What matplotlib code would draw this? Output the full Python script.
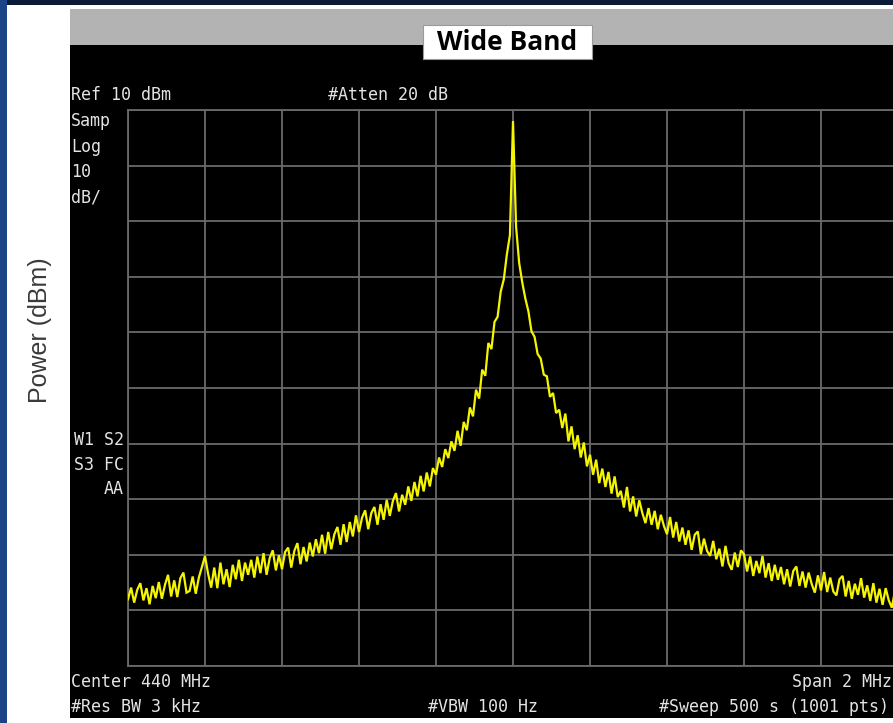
import numpy as np
import matplotlib
matplotlib.use("Agg")
import matplotlib.pyplot as plt
from matplotlib.patches import Rectangle

# ---------------- data ----------------
title = "Wide Band"
y_label = "Power (dBm)"
center_mhz = 440.0
span_mhz = 2.0
ref_level_dbm = 10.0
db_per_div = 10.0
n_div = 10
f_step_khz = 8.0  # trace points, kHz apart, from -1000 to +1000 kHz offset

trace_dbm = [
    -78.0, -75.9, -78.6, -76.3, -75.1, -78.2, -76.0, -78.9, -75.6, -77.8,
    -74.9, -77.9, -75.4, -73.6, -77.5, -74.6, -77.6, -74.2, -73.2, -76.8,
    -76.5, -73.9, -77.0, -74.1, -72.2, -70.2, -73.4, -75.9, -72.3, -76.0,
    -71.4, -75.3, -72.6, -75.8, -71.8, -74.4, -70.9, -74.7, -71.4, -73.6,
    -70.9, -74.1, -70.3, -73.3, -69.7, -73.6, -70.6, -69.2, -72.8, -70.1,
    -72.6, -69.5, -68.7, -72.3, -69.3, -67.9, -71.7, -68.6, -71.2, -67.8,
    -70.3, -67.2, -69.7, -66.4, -69.8, -65.9, -69.0, -66.3, -65.0, -68.2,
    -64.5, -67.7, -64.1, -66.7, -62.9, -65.9, -63.3, -62.0, -65.4, -62.5,
    -61.4, -64.6, -60.9, -63.7, -60.1, -63.0, -60.3, -58.9, -62.2, -59.2,
    -61.0, -57.7, -60.3, -56.9, -59.5, -55.8, -58.6, -55.2, -57.7, -54.4,
    -55.6, -52.5, -54.2, -51.0, -52.6, -49.6, -51.3, -47.7, -50.4, -46.1,
    -47.6, -43.5, -45.1, -40.3, -41.9, -36.7, -37.8, -31.9, -33.0, -28.1,
    -27.2, -22.7, -20.5, -16.0, -12.5, 8.0, -11.0, -17.5, -21.0, -23.9,
    -26.2, -29.8, -30.8, -33.9, -34.7, -37.6, -37.9, -41.6, -40.9, -44.5,
    -43.9, -47.2, -44.6, -49.6, -46.9, -51.0, -48.5, -52.5, -49.8, -54.1,
    -52.0, -55.6, -52.9, -57.1, -54.5, -57.8, -55.1, -59.0, -55.9, -59.6,
    -58.5, -61.5, -57.8, -62.2, -59.5, -63.1, -60.2, -62.5, -64.3, -61.6,
    -64.6, -62.1, -65.4, -62.8, -64.8, -66.3, -63.2, -66.9, -64.1, -67.6,
    -65.1, -68.2, -65.6, -69.1, -66.4, -65.8, -69.9, -67.1, -69.3, -70.2,
    -67.5, -70.8, -68.9, -72.1, -68.4, -71.5, -72.7, -69.6, -72.2, -69.2,
    -69.9, -73.0, -70.3, -73.8, -71.1, -73.3, -70.2, -74.1, -71.5, -74.7,
    -71.8, -74.5, -72.2, -75.3, -72.6, -75.7, -72.9, -72.1, -75.6, -73.0,
    -75.9, -73.2, -75.3, -76.8, -73.7, -76.4, -73.1, -76.7, -74.1, -76.6,
    -77.3, -74.4, -73.8, -77.5, -74.7, -77.9, -75.2, -77.2, -74.2, -77.7,
    -75.5, -78.3, -75.1, -78.6, -76.1, -79.0, -76.0, -78.2, -79.5, -76.5,
    -78.4,
]

header_left = "Ref 10 dBm"
header_mid = "#Atten 20 dB"
side_top = ["Samp", "Log", "10", "dB/"]
side_mid = ["W1 S2", "S3 FC", "AA"]
foot_left = ["Center 440 MHz", "#Res BW 3 kHz"]
foot_mid = "#VBW 100 Hz"
foot_right = ["Span 2 MHz", "#Sweep 500 s (1001 pts)"]

# ---------------- figure ----------------
W, H = 893, 723
fig = plt.figure(figsize=(W / 100, H / 100), dpi=100, facecolor="white")

# background "slide / screenshot" layer in pixel coordinates
bg = fig.add_axes([0, 0, 1, 1], zorder=0)
bg.set_xlim(0, W)
bg.set_ylim(H, 0)
bg.axis("off")
bg.add_patch(Rectangle((0, 0), W, 5, color="#0b1a36", lw=0))
bg.add_patch(Rectangle((0, 0), 7, H, color="#1a4485", lw=0))
bg.add_patch(Rectangle((70, 9), W - 70, 36, color="#b3b3b3", lw=0))
bg.add_patch(Rectangle((70, 45), W - 70, 673, color="black", lw=0))
bg.add_patch(Rectangle((423, 25), 169, 34, facecolor="white",
                       edgecolor="#9a9a9a", lw=0.8))
bg.text(507, 43, title, ha="center", va="center", fontsize=19,
        fontweight="bold", family="Open Sans", color="black")
bg.text(40, 330, y_label, rotation=90, ha="center", va="center",
        fontsize=18, family="Liberation Sans", color="#3a3a3a")

mono = dict(family="DejaVu Sans Mono", fontsize=12, color="#e4e4e4", va="center")
bg.text(71, 95, header_left, ha="left", **mono)
bg.text(328, 95, header_mid, ha="left", **mono)
for i, s in enumerate(side_top):
    bg.text(71, 121 + i * 25.5, s, ha="left", **mono)
for i, s in enumerate(side_mid):
    bg.text(124, 440 + i * 24.5, s, ha="right", **mono)
bg.text(71, 682, foot_left[0], ha="left", **mono)
bg.text(71, 707, foot_left[1], ha="left", **mono)
bg.text(483, 707, foot_mid, ha="center", **mono)
bg.text(892, 682, foot_right[0], ha="right", **mono)
bg.text(889, 707, foot_right[1], ha="right", **mono)

# ---------------- analyzer graticule + trace ----------------
left_px, top_px, grid_w, grid_h = 128, 110, 770, 556
ax = fig.add_axes([left_px / W, (H - top_px - grid_h) / H, grid_w / W, grid_h / H],
                  zorder=1)
ax.set_facecolor("black")

trace = np.array(trace_dbm)
freqs = center_mhz + (np.arange(len(trace)) * f_step_khz - 1000.0) / 1000.0

ax.plot(freqs, trace, color="#f5f500", lw=1.6, solid_joinstyle="miter", zorder=3)

x0, x1 = center_mhz - span_mhz / 2, center_mhz + span_mhz / 2
y0, y1 = ref_level_dbm - n_div * db_per_div, ref_level_dbm
ax.set_xlim(x0, x1)
ax.set_ylim(y0, y1)
ax.set_xticks(np.linspace(x0, x1, n_div + 1))
ax.set_yticks(np.linspace(y0, y1, n_div + 1))
ax.grid(True, color="#6a6a6a", lw=1.3)
ax.tick_params(length=0, labelbottom=False, labelleft=False)
for sp in ax.spines.values():
    sp.set_color("#6a6a6a")
    sp.set_linewidth(1.3)

fig.savefig("out.png", dpi=100, facecolor="white")
